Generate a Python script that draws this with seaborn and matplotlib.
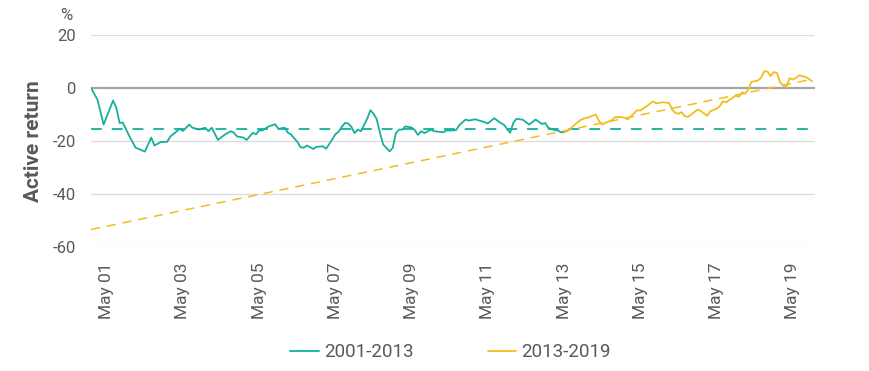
import pandas as pd
import matplotlib.pyplot as plt
import seaborn as sns

# months after Dec 2000, and active return (%)
teal_month = [0, 2, 4, 7, 8, 9, 10, 12, 14, 17, 19, 20, 22, 24, 25, 28, 29, 31, 32, 33,
              34, 36, 37, 38, 40, 42, 44, 45, 46, 48, 49, 51, 52, 53, 54, 56, 58, 59, 61, 62,
              63, 65, 66, 67, 68, 70, 71, 73, 74, 75, 76, 77, 78, 79, 80, 81, 82, 83, 84, 85,
              87, 88, 89, 90, 91, 92, 94, 95, 96, 97, 98, 99, 101, 102, 103, 104, 105, 107, 108, 111,
              112, 114, 115, 116, 118, 119, 121, 122, 124, 125, 127, 129, 130, 132, 133, 134, 136, 137, 138, 140,
              142, 143, 144, 146, 147, 148, 149]
teal_value = [0.0, -4.4, -13.8, -4.7, -7.5, -13.2, -13.0, -18.0, -22.5, -24.0, -18.7, -21.7, -20.4, -20.3, -18.3, -15.4, -16.2, -13.8, -15.0, -15.3,
              -15.7, -15.0, -16.3, -15.0, -19.6, -17.7, -16.3, -16.9, -18.3, -18.7, -19.6, -16.9, -17.5, -16.0, -16.0, -14.5, -13.7, -15.4, -15.0, -16.9,
              -17.5, -20.3, -22.3, -22.6, -21.7, -23.0, -22.2, -22.0, -22.9, -21.3, -19.4, -17.5, -16.5, -14.7, -13.2, -13.4, -14.6, -17.0, -15.7, -16.3,
              -11.6, -8.4, -9.7, -11.8, -16.9, -21.3, -23.9, -22.6, -17.0, -15.7, -15.7, -14.5, -14.9, -16.0, -17.7, -16.3, -17.0, -15.7, -16.3, -16.7,
              -16.0, -16.0, -15.9, -14.0, -11.9, -12.3, -11.8, -12.2, -12.9, -13.4, -11.4, -13.2, -13.8, -16.9, -13.1, -11.6, -12.0, -12.9, -13.8, -11.9,
              -13.6, -13.2, -15.0, -15.9, -16.0, -16.7, -16.7]

yellow_month = [149, 150, 152, 154, 155, 157, 159, 160, 161, 162, 164, 165, 167, 168, 169, 171, 172, 173, 175, 177,
                178, 180, 182, 183, 184, 185, 186, 187, 188, 190, 191, 192, 194, 195, 197, 198, 199, 200, 202, 203,
                204, 205, 206, 207, 208, 210, 211, 212, 213, 214, 215, 216, 217, 218, 219, 220, 221, 222, 223, 225,
                226, 227]
yellow_value = [-16.7, -16.3, -14.2, -12.2, -11.6, -10.9, -10.0, -12.5, -13.8, -13.1, -12.2, -11.0, -11.0, -11.2, -11.9, -9.6, -8.4, -8.5, -6.9, -5.0,
                -5.8, -5.4, -5.6, -8.1, -9.4, -9.7, -9.1, -10.6, -10.9, -9.1, -8.1, -8.7, -10.5, -8.8, -7.8, -6.9, -5.0, -5.4, -3.7, -2.9,
                -3.3, -1.7, -2.1, -0.6, 2.3, 2.8, 3.8, 6.3, 6.2, 4.5, 6.0, 5.7, 2.0, 0.9, 0.4, 3.7, 3.2, 3.8, 4.7, 4.2,
                3.5, 2.6]

teal_average = -15.6
trend_month = [0, 227]
trend_value = [-53.4, 3.3]

series_labels = ['2001-2013', '2013-2019']
y_ticks = [20, 0, -20, -40, -60]
x_tick_dates = ['2001-05-01', '2003-05-01', '2005-05-01', '2007-05-01', '2009-05-01',
                '2011-05-01', '2013-05-01', '2015-05-01', '2017-05-01', '2019-05-01']
x_tick_labels = ['May 01', 'May 03', 'May 05', 'May 07', 'May 09',
                 'May 11', 'May 13', 'May 15', 'May 17', 'May 19']

TEAL = '#14b09c'
YELLOW = '#f3bd1c'
GREY_TEXT = '#595959'


def to_dates(months):
    return [pd.Timestamp('2000-12-01') + pd.DateOffset(months=m) for m in months]


teal_df = pd.DataFrame({'date': to_dates(teal_month), 'value': teal_value})
yellow_df = pd.DataFrame({'date': to_dates(yellow_month), 'value': yellow_value})
trend_df = pd.DataFrame({'date': to_dates(trend_month), 'value': trend_value})

sns.set_style('white')
plt.rcParams['font.family'] = ['Roboto', 'DejaVu Sans']
plt.rcParams['axes.unicode_minus'] = False

fig = plt.figure(figsize=(8.7, 3.71), dpi=100)
ax = fig.add_axes([91 / 870, 1 - 247 / 371, 724 / 870, 212 / 371])

# grid and zero line
for t in y_ticks:
    if t != 0:
        ax.axhline(t, color='#dcdcdc', lw=0.9, zorder=0)
ax.axhline(0, color='#a5a5a5', lw=1.6, zorder=1)

# dashed reference lines
ax.axhline(teal_average, color=TEAL, lw=1.3, dashes=(6, 5.5), zorder=2)
sns.lineplot(data=trend_df, x='date', y='value', ax=ax, color=YELLOW, lw=1.1, zorder=2)
ax.lines[-1].set_dashes((6, 4.5))

sns.lineplot(data=teal_df, x='date', y='value', ax=ax, color=TEAL, lw=1.3,
             label=series_labels[0], zorder=3)
sns.lineplot(data=yellow_df, x='date', y='value', ax=ax, color=YELLOW, lw=1.3,
             label=series_labels[1], zorder=3)
if ax.get_legend() is not None:
    ax.get_legend().remove()

ax.set_ylim(-60, 20)
ax.set_yticks(y_ticks)
ax.set_xlim(pd.Timestamp('2000-12-01'), pd.Timestamp('2019-12-01'))
ax.set_xticks(pd.to_datetime(x_tick_dates))
ax.set_xticklabels(x_tick_labels, rotation=90)
ax.tick_params(axis='x', length=0, pad=11, labelsize=12.5, labelcolor=GREY_TEXT)
ax.tick_params(axis='y', length=0, pad=11, labelsize=12, labelcolor=GREY_TEXT)

ax.set_xlabel('')
ax.set_ylabel('Active return', fontsize=15, fontweight='bold', color=GREY_TEXT, labelpad=7)
sns.despine(ax=ax, left=True, bottom=True)

fig.text(66 / 870, 1 - 16 / 371, '%', ha='center', va='center', fontsize=12, color=GREY_TEXT)

handles = [l for l in ax.lines if l.get_label() in series_labels]
fig.legend(handles, series_labels, loc='center', bbox_to_anchor=(0.518, 0.05), ncol=2,
           frameon=False, fontsize=13.5, handlelength=1.5, handletextpad=0.27,
           columnspacing=4.0, labelcolor=GREY_TEXT)

plt.savefig('out.png', dpi=100)
